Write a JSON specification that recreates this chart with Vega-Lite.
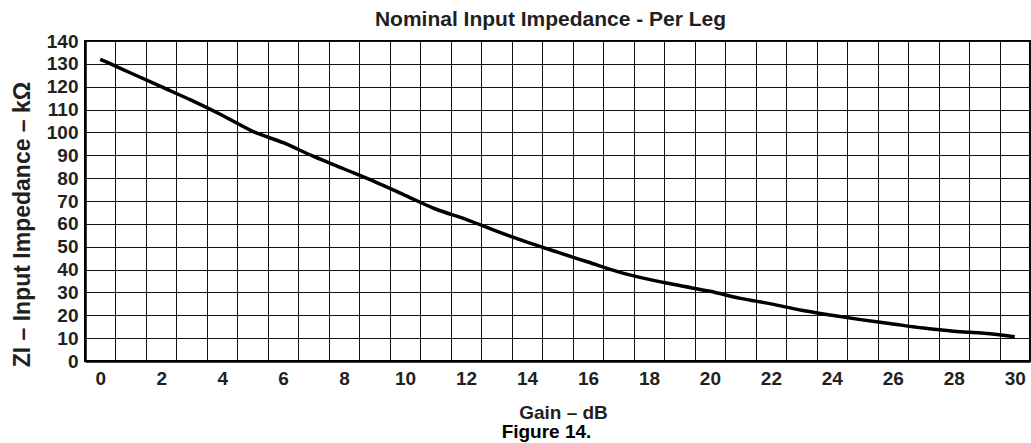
{
  "$schema": "https://vega.github.io/schema/vega-lite/v6.json",
  "width": 945,
  "height": 320,
  "autosize": {"type": "none"},
  "padding": {"left": 85, "top": 41, "right": 1, "bottom": 82},
  "background": "white",
  "config": {
    "font": "Liberation Sans",
    "view": {"stroke": "black", "strokeWidth": 2}
  },
  "title": {
    "text": "Nominal Input Impedance - Per Leg",
    "font": "Liberation Sans",
    "fontSize": 21,
    "fontWeight": "bold",
    "color": "#231f20",
    "anchor": "middle",
    "baseline": "alphabetic",
    "offset": 14,
    "dx": -7,
    "dy": 29
  },
  "data": {
    "values": [
      {"gain": 0, "z": 132},
      {"gain": 0.5, "z": 129},
      {"gain": 1, "z": 126},
      {"gain": 2, "z": 120},
      {"gain": 3, "z": 114},
      {"gain": 4, "z": 107.5},
      {"gain": 5, "z": 100.5},
      {"gain": 6, "z": 95.5},
      {"gain": 7, "z": 89.5},
      {"gain": 8, "z": 84},
      {"gain": 9, "z": 78.5},
      {"gain": 10, "z": 72.5},
      {"gain": 11, "z": 66.5},
      {"gain": 12, "z": 62},
      {"gain": 13, "z": 56.8},
      {"gain": 14, "z": 52},
      {"gain": 15, "z": 47.6},
      {"gain": 16, "z": 43.3},
      {"gain": 17, "z": 39},
      {"gain": 18, "z": 35.7},
      {"gain": 19, "z": 33},
      {"gain": 20, "z": 30.5},
      {"gain": 21, "z": 27.4},
      {"gain": 22, "z": 25},
      {"gain": 23, "z": 22.2},
      {"gain": 24, "z": 20},
      {"gain": 25, "z": 18},
      {"gain": 26, "z": 16.2},
      {"gain": 27, "z": 14.4},
      {"gain": 28, "z": 13},
      {"gain": 29, "z": 12.1},
      {"gain": 30, "z": 10.6}
    ]
  },
  "encoding": {
    "y": {
      "field": "z",
      "type": "quantitative",
      "scale": {"domain": [0, 140], "nice": false, "zero": true},
      "axis": {
        "values": [0, 10, 20, 30, 40, 50, 60, 70, 80, 90, 100, 110, 120, 130, 140],
        "grid": true,
        "gridColor": "#111111",
        "gridOpacity": 1,
        "gridWidth": 1,
        "ticks": false,
        "domainColor": "black",
        "domainWidth": 2.5,
        "labelFont": "Liberation Sans",
        "labelFontSize": 19,
        "labelFontWeight": "bold",
        "labelColor": "#231f20",
        "labelPadding": 7,
        "labelFlush": false,
        "labelOverlap": false,
        "title": "ZI – Input Impedance – kΩ",
        "titleFont": "Liberation Sans",
        "titleFontSize": 23,
        "titleFontWeight": "bold",
        "titleColor": "#231f20",
        "titleAngle": -90,
        "titleX": -63,
        "titleY": 183,
        "titleAlign": "center",
        "titleBaseline": "middle"
      }
    }
  },
  "layer": [
    {
      "mark": {"type": "line", "color": "black", "strokeWidth": 3.5, "interpolate": "monotone"},
      "encoding": {
        "x": {
          "field": "gain",
          "type": "quantitative",
          "scale": {"domain": [-0.5, 30.5], "nice": false, "zero": false},
          "axis": {
            "orient": "bottom",
            "values": [0, 2, 4, 6, 8, 10, 12, 14, 16, 18, 20, 22, 24, 26, 28, 30],
            "grid": false,
            "ticks": false,
            "domainColor": "black",
            "domainWidth": 2.5,
            "labelFont": "Liberation Sans",
            "labelFontSize": 19,
            "labelFontWeight": "bold",
            "labelColor": "#231f20",
            "labelPadding": 8,
            "labelFlush": false,
            "labelOverlap": false,
            "title": "Gain – dB",
            "titleFont": "Liberation Sans",
            "titleFontSize": 19,
            "titleFontWeight": "bold",
            "titleColor": "#231f20",
            "titleX": 478,
            "titleY": 57,
            "titleAlign": "center",
            "titleBaseline": "alphabetic"
          }
        }
      }
    },
    {
      "mark": {"type": "line", "opacity": 0},
      "encoding": {
        "x": {
          "field": "gain",
          "type": "quantitative",
          "axis": {
            "orient": "bottom",
            "values": [-0.5, 0.5, 1.5, 2.5, 3.5, 4.5, 5.5, 6.5, 7.5, 8.5, 9.5, 10.5, 11.5, 12.5, 13.5, 14.5, 15.5, 16.5, 17.5, 18.5, 19.5, 20.5, 21.5, 22.5, 23.5, 24.5, 25.5, 26.5, 27.5, 28.5, 29.5, 30.5],
            "grid": true,
            "gridColor": "#111111",
            "gridOpacity": 1,
            "gridWidth": 1,
            "labels": false,
            "ticks": false,
            "domain": false,
            "title": "Figure 14.",
            "titleFont": "Liberation Sans",
            "titleFontSize": 19,
            "titleFontWeight": "bold",
            "titleColor": "black",
            "titleX": 461,
            "titleY": 76,
            "titleAlign": "center",
            "titleBaseline": "alphabetic"
          }
        }
      }
    }
  ],
  "resolve": {"axis": {"x": "independent"}}
}
